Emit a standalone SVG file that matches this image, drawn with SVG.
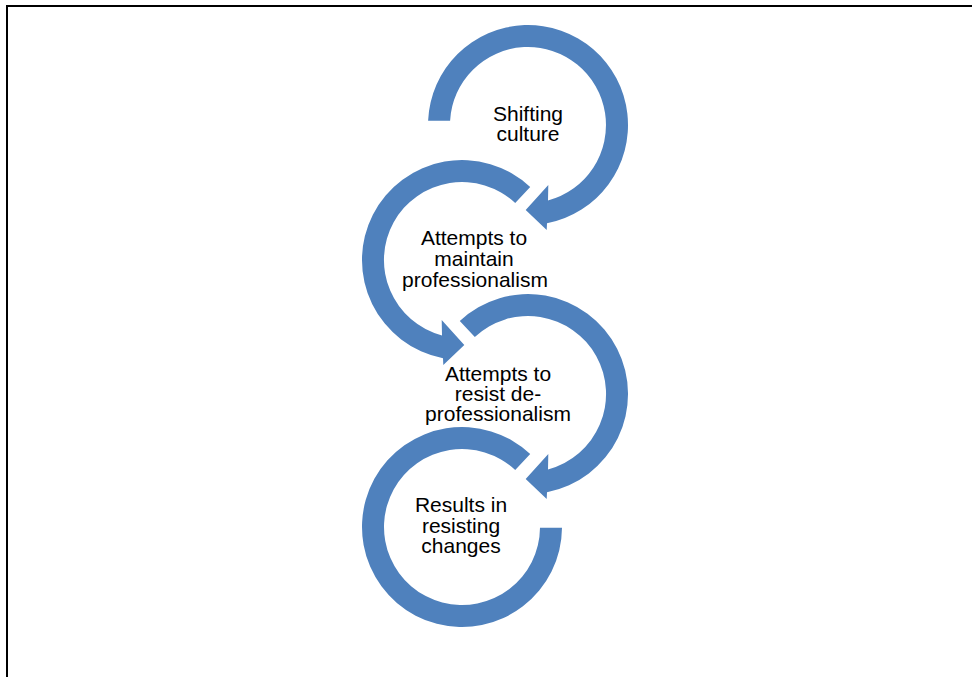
<svg xmlns="http://www.w3.org/2000/svg" width="972" height="677" viewBox="0 0 972 677">
<style>
.ring{fill:#4F81BD;stroke:none}
.lbl{font-family:"Liberation Sans",Arial,sans-serif;font-size:21px;fill:#000;text-anchor:middle}
.frame{fill:none;stroke:#000;stroke-width:2}
</style>
<rect width="972" height="677" fill="#fff"/>
<path class="frame" d="M7,677 V6 H972"/>
<g id="connectors">
</g>
<g id="node-shifting-culture">
<path class="ring" d="M428.1,120.7 A100,100 0 1 1 547,223.2 L546.7,230 L525.7,210 L548.3,185 L548,200.4 A78,78 0 1 0 450.1,120.7 Z"/>
<text class="lbl" x="528" y="120.5">Shifting</text>
<text class="lbl" x="528" y="140.5">culture</text>
</g>
<g id="node-maintain">
<path class="ring" d="M530.2,186.9 A100,100 0 1 0 443,358.2 L443.3,365 L464.3,345 L441.7,320 L442,335.4 A78,78 0 1 1 515.2,203 Z"/>
<text class="lbl" x="474" y="245">Attempts to</text>
<text class="lbl" x="474" y="266">maintain</text>
<text class="lbl" x="475" y="286.5">professionalism</text>
</g>
<g id="node-resist">
<path class="ring" d="M459.8,320.9 A100,100 0 1 1 547,492.2 L546.7,499 L525.7,479 L548.3,454 L548,469.4 A78,78 0 1 0 474.8,337 Z"/>
<text class="lbl" x="498" y="380.5">Attempts to</text>
<text class="lbl" x="498" y="400.5">resist de-</text>
<text class="lbl" x="498" y="420.5">professionalism</text>
</g>
<g id="node-results">
<path class="ring" d="M530.2,453.9 A100,100 0 1 0 562,527.7 L540,527.7 A78,78 0 1 1 515.2,470 Z"/>
<text class="lbl" x="461" y="511.7">Results in</text>
<text class="lbl" x="461" y="532.5">resisting</text>
<text class="lbl" x="461" y="553.3">changes</text>
</g>
</svg>
